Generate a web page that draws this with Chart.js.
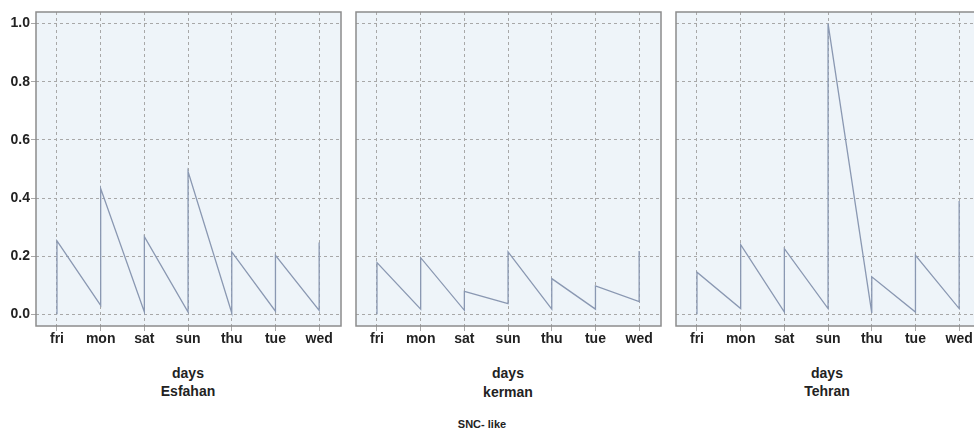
<!DOCTYPE html>
<html>
<head>
<meta charset="utf-8">
<script src="https://cdn.jsdelivr.net/npm/chart.js"></script>
<style>
  html, body { margin: 0; padding: 0; background: #fff; width: 974px; height: 434px; overflow: hidden; }
  .panel { position: absolute; top: 0; }
  .lbl {
    position: absolute; width: 200px; text-align: center;
    font-family: 'Liberation Sans', Arial, sans-serif;
    font-weight: bold; font-size: 14px; line-height: 18px; color: #222;
  }
</style>
</head>
<body>
<div class="panel" style="left:0px;width:345px;height:350px"><canvas id="c1"></canvas></div>
<div class="panel" style="left:352px;width:313px;height:350px"><canvas id="c2"></canvas></div>
<div class="panel" style="left:672px;width:313px;height:350px"><canvas id="c3"></canvas></div>

<div class="lbl" style="left:88px;top:364px">days</div>
<div class="lbl" style="left:88px;top:382px">Esfahan</div>
<div class="lbl" style="left:408px;top:364px">days</div>
<div class="lbl" style="left:408px;top:383px">kerman</div>
<div class="lbl" style="left:727px;top:364px">days</div>
<div class="lbl" style="left:727px;top:382px">Tehran</div>
<div class="lbl" style="left:382px;top:415px;font-size:11px">SNC- like</div>

<script>
// categories on the x axis
const days = ['fri', 'mon', 'sat', 'sun', 'thu', 'tue', 'wed'];
const yTicks = [0, 0.2, 0.4, 0.6, 0.8, 1.0];

// each day: the line arrives at the "low" value, then jumps up to the "peak"
const esfahanLow  = [0.0, 0.031, 0.008, 0.008, 0.005, 0.011, 0.014];
const esfahanPeak = [0.253, 0.433, 0.267, 0.491, 0.215, 0.203, 0.247];

const kermanLow  = [0.0, 0.018, 0.014, 0.037, 0.018, 0.018, 0.044];
const kermanPeak = [0.178, 0.195, 0.079, 0.215, 0.123, 0.098, 0.218];

const tehranLow  = [0.0, 0.020, 0.008, 0.020, 0.005, 0.008, 0.020];
const tehranPeak = [0.145, 0.240, 0.226, 1.0, 0.129, 0.203, 0.39];

function buildPoints(lows, peaks) {
    const pts = [];
    days.forEach((d, i) => {
        pts.push({ x: i, y: lows[i] });
        pts.push({ x: i, y: peaks[i] });
    });
    return pts;
}

// light blue plot area + grey frame
const frame = {
    id: 'frame',
    beforeDraw(chart) {
        const a = chart.chartArea, ctx = chart.ctx;
        ctx.save();
        ctx.fillStyle = '#eef4f9';
        ctx.fillRect(a.left, a.top, a.right - a.left, a.bottom - a.top);
        ctx.restore();
    },
    afterDraw(chart) {
        const a = chart.chartArea, ctx = chart.ctx;
        ctx.save();
        ctx.setLineDash([]);
        ctx.strokeStyle = '#8c8c8c';
        ctx.lineWidth = 1.5;
        ctx.strokeRect(a.left, a.top, a.right - a.left, a.bottom - a.top);
        ctx.restore();
    }
};

function makeChart(id, lows, peaks, showY, yWidth) {
    return new Chart(document.getElementById(id), {
        type: 'line',
        data: {
            datasets: [{
                data: buildPoints(lows, peaks),
                borderColor: '#8a98b2',
                borderWidth: 1.3,
                pointRadius: 0,
                tension: 0
            }]
        },
        options: {
            responsive: true,
            maintainAspectRatio: false,
            animation: false,
            layout: { padding: { top: 12, right: 4, left: 0, bottom: 0 } },
            plugins: { legend: { display: false }, tooltip: { enabled: false } },
            scales: {
                x: {
                    type: 'linear',
                    min: -0.48,
                    max: 6.5,
                    afterBuildTicks: s => { s.ticks = days.map((d, i) => ({ value: i })); },
                    afterFit: s => { s.height = 24; },
                    ticks: {
                        autoSkip: false, maxRotation: 0, padding: 0,
                        color: '#222',
                        font: { family: "'Liberation Sans', Arial, sans-serif", size: 14, weight: 'bold' },
                        callback: v => days[v]
                    },
                    grid: { color: '#a8a8a8', tickColor: '#a8a8a8', tickLength: 5, lineWidth: 1 },
                    border: { display: false, dash: [3, 3] }
                },
                y: {
                    min: -0.04,
                    max: 1.04,
                    afterBuildTicks: s => { s.ticks = yTicks.map(v => ({ value: v })); },
                    afterFit: s => { s.width = yWidth; },
                    ticks: {
                        display: showY, padding: 1,
                        color: '#222',
                        font: { family: "'Liberation Sans', Arial, sans-serif", size: 14, weight: 'bold' },
                        callback: v => v.toFixed(1)
                    },
                    grid: { color: '#a8a8a8', tickColor: '#a8a8a8', tickLength: showY ? 5 : 0, lineWidth: 1 },
                    border: { display: false, dash: [3, 3] }
                }
            }
        },
        plugins: [frame]
    });
}

makeChart('c1', esfahanLow, esfahanPeak, true, 36);
makeChart('c2', kermanLow, kermanPeak, false, 4);
makeChart('c3', tehranLow, tehranPeak, false, 4);
</script>
</body>
</html>
